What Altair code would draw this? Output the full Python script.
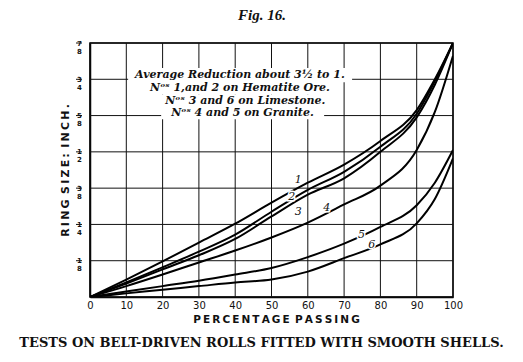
import altair as alt
import pandas as pd

# percentage passing (x) and ring size in eighths of an inch (y)
pct = [0, 10, 20, 30, 40, 50, 60, 70, 80, 90, 95, 100]
curve_1 = [0, 0.48, 0.98, 1.50, 2.02, 2.60, 3.15, 3.65, 4.30, 5.15, 6.00, 7.00]
curve_2 = [0, 0.40, 0.82, 1.25, 1.72, 2.35, 2.95, 3.45, 4.14, 5.05, 5.95, 7.00]
curve_3 = [0, 0.37, 0.76, 1.15, 1.60, 2.22, 2.82, 3.27, 4.00, 4.95, 5.85, 7.00]
curve_4 = [0, 0.30, 0.62, 0.95, 1.28, 1.64, 2.05, 2.55, 3.07, 4.05, 5.10, 6.65]
curve_5 = [0, 0.15, 0.30, 0.45, 0.62, 0.80, 1.10, 1.47, 1.93, 2.53, 3.15, 4.05]
curve_6 = [0, 0.10, 0.20, 0.30, 0.40, 0.48, 0.70, 1.07, 1.45, 2.03, 2.70, 3.82]
curve_names = ["1", "2", "3", "4", "5", "6"]

x_ticks = [0, 10, 20, 30, 40, 50, 60, 70, 80, 90, 100]
y_ticks = [0, 1, 2, 3, 4, 5, 6, 7]
y_num = ["", "1", "1", "3", "1", "5", "3", "7"]
y_den = ["", "8", "4", "8", "2", "8", "4", "8"]

label_text = ["1", "2", "3", "4", "5", "6"]
label_pct = [57.4, 55.6, 57.4, 65.2, 74.8, 77.6]
label_e = [3.22, 2.76, 2.35, 2.44, 1.71, 1.43]

note_text = [
    "Average Reduction about 3½ to 1.",
    "Nᵒˢ 1,and 2 on Hematite Ore.",
    "Nᵒˢ 3 and 6 on Limestone.",
    "Nᵒˢ 4 and 5 on Granite.",
]
note_pct = [41.3, 41.3, 42.8, 42.0]
note_e = [6.12, 5.77, 5.41, 5.08]
# white patches behind the note lines (data units)
box_x1 = [10.5, 13.8, 18.2, 19.6]
box_x2 = [72.2, 68.9, 67.5, 64.5]
box_y1 = [5.92, 5.59, 5.21, 4.90]
box_y2 = [6.31, 5.98, 5.59, 5.26]

fig_title = "Fig. 16."
caption = "TESTS ON BELT-DRIVEN ROLLS FITTED WITH SMOOTH SHELLS."
x_title = "\u2009".join("PERCENTAGE") + "\u2002" + "\u2009".join("PASSING")
y_title = "\u2009".join("RING") + "\u2002" + "\u2009".join("SIZE:") + "\u2002" + "\u2009".join("INCH.")

rows = []
for name, vals in zip(curve_names, [curve_1, curve_2, curve_3, curve_4, curve_5, curve_6]):
    for p, v in zip(pct, vals):
        rows.append({"curve": name, "pct": p, "e": v})
df = pd.DataFrame(rows)

W, H = 363, 254

label_expr = "".join(
    f"datum.value == {t} ? ['{n}', '{d}'] : " for t, n, d in zip(y_ticks, y_num, y_den) if n
) + "''"

xscale = alt.Scale(domain=[0, 100], nice=False, zero=False)
yscale = alt.Scale(domain=[0, 7], nice=False, zero=False)

x_axis = alt.Axis(
    values=x_ticks, grid=False, ticks=False, labelOverlap=False,
    domainColor="#000", domainWidth=1.5,
    labelFont="DejaVu Sans", labelFontSize=10, labelColor="#111", labelPadding=3,
    labelFlush=False, title=x_title, titleFont="DejaVu Sans", titleFontSize=10.5,
    titleFontWeight="bold", titleColor="#111", titleX=186, titleY=22,
    titleBaseline="middle", titleAnchor="start", titleAlign="center",
)
y_axis = alt.Axis(
    values=y_ticks, grid=False, ticks=False, labelOverlap=False, labelExpr=label_expr,
    domainColor="#000", domainWidth=1.5,
    labelFont="DejaVu Sans", labelFontSize=7, labelFontWeight="bold",
    labelLineHeight=8, labelAlign="center", labelBaseline="middle",
    labelPadding=11, labelColor="#111", labelFlush=False,
    title=y_title, titleFont="DejaVu Sans", titleFontSize=11, titleFontWeight="bold",
    titleColor="#111", titleAngle=-90, titleX=-25, titleY=127,
    titleBaseline="middle", titleAlign="center", titleAnchor="start",
)

vgrid = alt.Chart(pd.DataFrame({"gx": x_ticks})).mark_rule(
    color="#111", strokeWidth=1
).encode(
    x=alt.X("gx:Q", scale=xscale, axis=x_axis), y=alt.value(0), y2=alt.value(H)
)
hgrid = alt.Chart(pd.DataFrame({"gy": y_ticks})).mark_rule(
    color="#111", strokeWidth=1
).encode(
    y=alt.Y("gy:Q", scale=yscale, axis=y_axis), x=alt.value(0), x2=alt.value(W)
)

lines = alt.Chart(df).mark_line(
    color="#000", strokeWidth=2, interpolate="monotone", clip=True
).encode(
    x=alt.X("pct:Q", scale=xscale, axis=x_axis),
    y=alt.Y("e:Q", scale=yscale, axis=y_axis),
    detail="curve:N",
)

boxes = alt.Chart(pd.DataFrame({"x1": box_x1, "x2": box_x2, "y1": box_y1, "y2": box_y2})).mark_rect(
    color="white"
).encode(
    x=alt.X("x1:Q", scale=xscale, axis=x_axis), x2="x2:Q",
    y=alt.Y("y1:Q", scale=yscale, axis=y_axis), y2="y2:Q",
)

notes = alt.Chart(pd.DataFrame({"t": note_text, "p": note_pct, "e": note_e})).mark_text(
    font="DejaVu Serif", fontStyle="italic", fontWeight="bold", fontSize=11,
    color="#111", baseline="middle", align="center",
).encode(
    x=alt.X("p:Q", scale=xscale, axis=x_axis), y=alt.Y("e:Q", scale=yscale, axis=y_axis), text="t:N"
)

label_df = pd.DataFrame({"t": label_text, "p": label_pct, "e": label_e})
label_halo = alt.Chart(label_df).mark_text(
    font="DejaVu Serif", fontStyle="italic", fontSize=11, color="white",
    stroke="white", strokeWidth=3, baseline="middle", align="center",
).encode(
    x=alt.X("p:Q", scale=xscale, axis=x_axis), y=alt.Y("e:Q", scale=yscale, axis=y_axis), text="t:N"
)
labels = alt.Chart(label_df).mark_text(
    font="DejaVu Serif", fontStyle="italic", fontSize=11, color="#111",
    baseline="middle", align="center",
).encode(
    x=alt.X("p:Q", scale=xscale, axis=x_axis), y=alt.Y("e:Q", scale=yscale, axis=y_axis), text="t:N"
)

frac_bars = alt.Chart(pd.DataFrame({"v": y_ticks[1:]})).mark_rule(
    color="#111", strokeWidth=1
).encode(
    y=alt.Y("v:Q", scale=yscale, axis=y_axis), x=alt.value(-14), x2=alt.value(-8)
)

title_mark = alt.Chart(pd.DataFrame({"t": [fig_title]})).mark_text(
    font="Liberation Serif", fontStyle="italic", fontWeight="bold", fontSize=15,
    color="#111", align="center", baseline="alphabetic",
).encode(text="t:N", x=alt.value(172), y=alt.value(-23))

caption_mark = alt.Chart(pd.DataFrame({"t": [caption]})).mark_text(
    font="DejaVu Serif", fontWeight="bold", fontSize=13, color="#111",
    align="center", baseline="middle",
).encode(text="t:N", x=alt.value(171.5), y=alt.value(300))

chart = alt.layer(
    vgrid, hgrid, lines, boxes, notes, label_halo, labels, frac_bars, title_mark, caption_mark
).properties(
    width=W, height=H,
    autosize=alt.AutoSizeParams(type="none"),
    padding={"left": 82, "top": 35, "right": 62, "bottom": 57},
    background="white",
).configure_view(stroke="#000", strokeWidth=1.5)

chart.save("out.html", embed_options={"renderer": "svg", "actions": False})
